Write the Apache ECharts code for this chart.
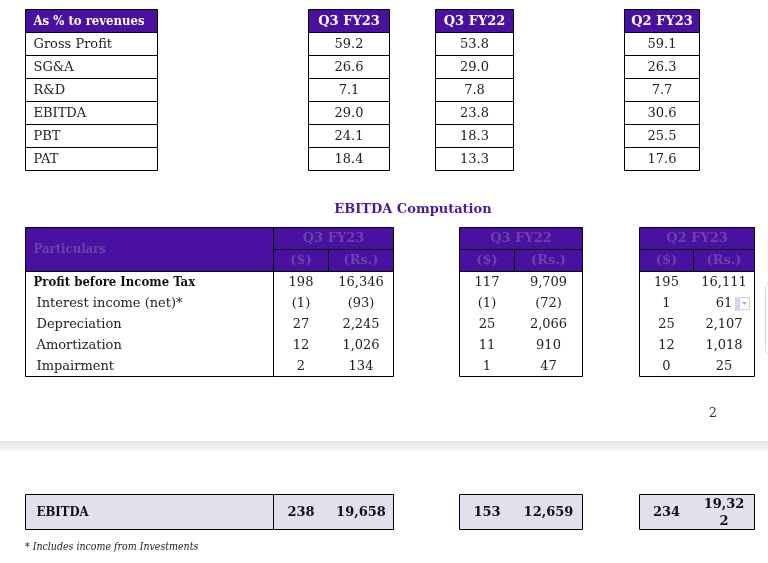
<!DOCTYPE html>
<html>
<head>
<meta charset="utf-8">
<title>EBITDA Computation</title>
<script src="https://cdn.jsdelivr.net/npm/echarts@6/dist/echarts.min.js"></script>
<style>
  html, body { margin: 0; padding: 0; background: #fff; }
  #main { width: 768px; height: 563px; }
</style>
</head>
<body>
<div id="main"></div>
<script>
'use strict';
// ---- data ----
var periods = ['Q3 FY23', 'Q3 FY22', 'Q2 FY23'];
var ratioNames = ['Gross Profit', 'SG&A', 'R&D', 'EBITDA', 'PBT', 'PAT'];
var ratioQ3FY23 = [59.2, 26.6, 7.1, 29.0, 24.1, 18.4];
var ratioQ3FY22 = [53.8, 29.0, 7.8, 23.8, 18.3, 13.3];
var ratioQ2FY23 = [59.1, 26.3, 7.7, 30.6, 25.5, 17.6];

var particulars = ['Profit before Income Tax', 'Interest income (net)*', 'Depreciation', 'Amortization', 'Impairment'];
var usdQ3FY23 = [198, -1, 27, 12, 2];
var rsQ3FY23 = [16346, -93, 2245, 1026, 134];
var usdQ3FY22 = [117, -1, 25, 11, 1];
var rsQ3FY22 = [9709, -72, 2066, 910, 47];
var usdQ2FY23 = [195, 1, 25, 12, 0];
var rsQ2FY23 = [16111, 61, 2107, 1018, 25];
var ebitdaUsd = [238, 153, 234];
var ebitdaRs = [19658, 12659, 19322];

// ---- look ----
var PURPLE = '#4a11a0';
var HEAD_TEXT = '#6545a8';
var SERIF = '"DejaVu Serif", "Liberation Serif", serif';
var SERIF_C = '"DejaVu Serif Condensed", "DejaVu Serif", serif';
var FS = 13;

var els = [];
function rect(x, y, w, h, fill, stroke) {
    els.push({ type: 'rect', shape: { x: x, y: y, width: w, height: h },
        style: { fill: fill || 'none', stroke: stroke || null, lineWidth: 1 }, z: 1 });
}
function line(x1, y1, x2, y2, color) {
    els.push({ type: 'line', shape: { x1: x1, y1: y1, x2: x2, y2: y2 },
        style: { stroke: color || '#000', lineWidth: 1 }, z: 2 });
}
function text(x, y, str, o) {
    o = o || {};
    els.push({ type: 'text', x: x, y: y, z: 3,
        style: { text: str, fill: o.color || '#222', fontFamily: o.cond ? SERIF_C : SERIF, fontSize: o.size || FS,
            fontWeight: o.bold ? 'bold' : 'normal', fontStyle: o.italic ? 'italic' : 'normal',
            align: o.align || 'center', verticalAlign: 'middle', lineHeight: o.lh || 17 } });
}
function fmtNum(v) {
    var s = Math.abs(v).toLocaleString('en-US');
    return v < 0 ? '(' + s + ')' : s;
}

// ---- top ratio table ----
var rTop = 9.5, rH = 23;
var labX = 25.5, labW = 132;
var colX = [308.5, 435.5, 624.5], colW = [81, 78, 75];
var ratios = [ratioQ3FY23, ratioQ3FY22, ratioQ2FY23];

rect(labX, rTop, labW, rH, PURPLE, '#000');
text(labX + 8, rTop + rH / 2 + 1, 'As % to revenues', { align: 'left', bold: true, cond: true, color: '#fff' });
ratioNames.forEach(function (n, i) {
    var y = rTop + rH * (i + 1);
    rect(labX, y, labW, rH, '#fff', '#000');
    text(labX + 8, y + rH / 2 + 1, n, { align: 'left' });
});
periods.forEach(function (p, c) {
    rect(colX[c], rTop, colW[c], rH, PURPLE, '#000');
    text(colX[c] + colW[c] / 2, rTop + rH / 2 + 1, p, { bold: true, color: '#fff' });
    ratios[c].forEach(function (v, i) {
        var y = rTop + rH * (i + 1);
        rect(colX[c], y, colW[c], rH, '#fff', '#000');
        text(colX[c] + colW[c] / 2, y + rH / 2 + 1, v.toFixed(1));
    });
});

// ---- EBITDA computation ----
text(413, 210, 'EBITDA Computation', { bold: true, color: '#4b1a9c' });

var hTop = 227.5, h1 = 22, h2 = 22, bRowH = 21, nRows = particulars.length;
var bodyTop = hTop + h1 + h2;
var groups = [
    { x: 273.5, w: 120, split: 55, usd: usdQ3FY23, rs: rsQ3FY23 },
    { x: 459.5, w: 123, split: 55, usd: usdQ3FY22, rs: rsQ3FY22 },
    { x: 639.5, w: 115, split: 54, usd: usdQ2FY23, rs: rsQ2FY23 }
];
var partX = 25.5, partW = 248;

// particulars column
rect(partX, hTop, partW, h1 + h2, PURPLE, '#000');
text(partX + 8, hTop + (h1 + h2) / 2, 'Particulars', { align: 'left', bold: true, cond: true, color: HEAD_TEXT });
rect(partX, bodyTop, partW, bRowH * nRows, '#fff', '#000');
particulars.forEach(function (n, i) {
    var y = bodyTop + bRowH * i + bRowH / 2 + 1;
    text(partX + (i === 0 ? 8 : 11), y, n, { align: 'left', bold: i === 0, cond: i === 0, color: i === 0 ? '#111' : '#222' });
});

groups.forEach(function (g, c) {
    rect(g.x, hTop, g.w, h1 + h2, PURPLE, '#000');
    line(g.x, hTop + h1, g.x + g.w, hTop + h1);
    line(g.x + g.split, hTop + h1, g.x + g.split, bodyTop);
    text(g.x + g.w / 2, hTop + h1 / 2, periods[c], { bold: true, color: HEAD_TEXT });
    text(g.x + g.split / 2, hTop + h1 + h2 / 2, '($)', { bold: true, color: HEAD_TEXT });
    text(g.x + g.split + (g.w - g.split) / 2, hTop + h1 + h2 / 2, '(Rs.)', { bold: true, color: HEAD_TEXT });
    rect(g.x, bodyTop, g.w, bRowH * nRows, '#fff', '#000');
    g.usd.forEach(function (v, i) {
        var y = bodyTop + bRowH * i + bRowH / 2 + 1;
        text(g.x + g.split / 2, y, fmtNum(v));
        text(g.x + g.split + (g.w - g.split) / 2, y, fmtNum(g.rs[i]));
    });
});

// little spreadsheet artefacts at the right edge
els.push({ type: 'rect', shape: { x: 735, y: 297, width: 4, height: 14 }, style: { fill: '#c9dbf2' }, z: 2 });
els.push({ type: 'rect', shape: { x: 739.5, y: 297.5, width: 10, height: 12 }, style: { fill: '#fff', stroke: '#d0d0d0' }, z: 2 });
els.push({ type: 'polygon', shape: { points: [[742, 302], [747, 302], [744.5, 305]] }, style: { fill: '#aaa' }, z: 3 });
els.push({ type: 'rect', shape: { x: 765.5, y: 282.5, width: 20, height: 73, r: 6 }, style: { fill: '#fff', stroke: '#dcdcdc' }, z: 1 });

// page number + page break band
text(713, 414, '2', { color: '#333' });
els.push({ type: 'rect', shape: { x: 0, y: 441, width: 768, height: 10 }, z: 0,
    style: { fill: new echarts.graphic.LinearGradient(0, 0, 0, 1, [
        { offset: 0, color: '#e6e6e6' }, { offset: 1, color: '#f6f6f6' }]) } });

// EBITDA total row
var tTop = 494.5, tH = 35, LAV = '#e4dfec';
rect(partX, tTop, partW + groups[0].w, tH, LAV, '#000');
line(groups[0].x, tTop, groups[0].x, tTop + tH);
text(partX + 11, tTop + tH / 2 + 1, 'EBITDA', { align: 'left', bold: true, cond: true, color: '#111' });
groups.forEach(function (g, c) {
    if (c > 0) rect(g.x, tTop, g.w, tH, LAV, '#000');
    var rsStr = fmtNum(ebitdaRs[c]);
    // last cell is too narrow in the source and wraps
    if (c === 2) rsStr = rsStr.slice(0, 5) + '\n' + rsStr.slice(5);
    text(g.x + g.split / 2, tTop + tH / 2 + 1, fmtNum(ebitdaUsd[c]), { bold: true, color: '#111' });
    text(g.x + g.split + (g.w - g.split) / 2, tTop + tH / 2 + 1, rsStr, { bold: true, color: '#111' });
});

text(25, 547, '* Includes income from Investments', { align: 'left', italic: true, cond: true, size: 10.5, color: '#222' });

var chart = echarts.init(document.getElementById('main'), null, { renderer: 'canvas' });
chart.setOption({
    backgroundColor: '#fff',
    animation: false,
    graphic: { elements: els }
});
</script>
</body>
</html>
